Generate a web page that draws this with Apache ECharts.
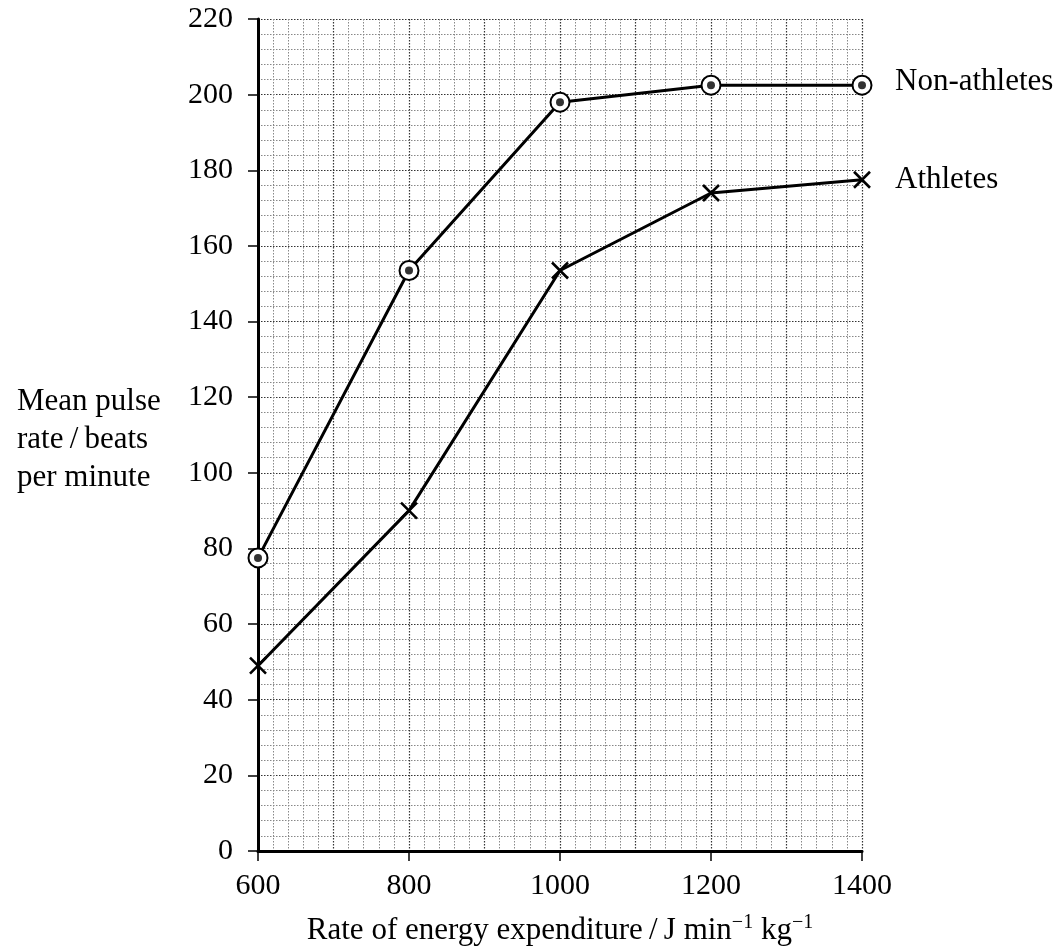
<!DOCTYPE html>
<html><head><meta charset="utf-8">
<script src="https://cdn.jsdelivr.net/npm/echarts@6/dist/echarts.min.js"></script>
<style>html,body{margin:0;padding:0;background:#fff}#c{width:1063px;height:948px}</style>
</head><body><div id="c"></div>
<script>
const energy = [600, 800, 1000, 1200, 1400];
const nonAthletes = [77.5, 153.5, 198, 202.5, 202.5];
const athletes = [49, 90, 153.5, 174, 177.5];
const xTicks = [600, 800, 1000, 1200, 1400];
const yTicks = [0, 20, 40, 60, 80, 100, 120, 140, 160, 180, 200, 220];
const seriesNames = ['Non-athletes', 'Athletes'];
const yTitle = 'Mean pulse\nrate\u2009/\u2009beats\nper minute';
const xTitle = 'Rate of energy expenditure\u2009/\u2009J min{s|\u22121} kg{s|\u22121}';

const FONT = '"Liberation Serif", "Times New Roman", serif';
const TICK_FS = 30, TEXT_FS = 31;
const pts = a => energy.map((x, i) => [x, a[i]]);

const chart = echarts.init(document.getElementById('c'));
chart.setOption({
  animation: false,
  backgroundColor: '#fff',
  title: {
    text: yTitle, left: 12, top: 378,
    textStyle: { fontFamily: FONT, fontSize: TEXT_FS, fontWeight: 'normal', color: '#000', lineHeight: 38 }
  },
  grid: { left: 258, right: 201, top: 19, bottom: 97, containLabel: false, outerBoundsMode: 'none' },
  xAxis: [{
    type: 'value', min: xTicks[0], max: xTicks[xTicks.length - 1], interval: 100, position: 'bottom',
    axisLine: { show: false }, axisTick: { show: false }, axisLabel: { show: false },
    splitLine: { show: true, lineStyle: { color: '#333', type: [1.5, 1.5], width: 1.2 } },
    minorTick: { show: false, splitNumber: 5 },
    minorSplitLine: { show: true, lineStyle: { color: '#888', type: [1.5, 1.5], width: 1 } }
  }, {
    type: 'value', min: xTicks[0], max: xTicks[xTicks.length - 1], interval: 200, position: 'bottom',
    axisLine: { show: true, lineStyle: { color: '#000', width: 3 } },
    axisTick: { show: true, length: 10, lineStyle: { color: '#000', width: 1.5 } },
    axisLabel: { margin: 20, fontFamily: FONT, fontSize: TICK_FS, color: '#000', formatter: v => String(v) },
    splitLine: { show: false },
    name: xTitle,
    nameLocation: 'middle', nameGap: 62,
    nameTextStyle: { fontFamily: FONT, fontSize: TEXT_FS, color: '#000',
      rich: { s: { fontFamily: FONT, fontSize: 20, color: '#000', padding: [0, 0, 16, 0] } } }
  }],
  yAxis: {
    type: 'value', min: yTicks[0], max: yTicks[yTicks.length - 1], interval: 20,
    axisLine: { show: true, lineStyle: { color: '#000', width: 3 } },
    axisTick: { show: true, length: 10, lineStyle: { color: '#000', width: 1.5 } },
    axisLabel: { margin: 25, fontFamily: FONT, fontSize: TICK_FS, color: '#000', formatter: v => String(v) },
    splitLine: { show: true, lineStyle: { color: '#333', type: [1.5, 1.5], width: 1.2 } },
    minorTick: { show: false, splitNumber: 5 },
    minorSplitLine: { show: true, lineStyle: { color: '#888', type: [1.5, 1.5], width: 1 } }
  },
  series: [{
    name: seriesNames[0], type: 'line', xAxisIndex: 1, data: pts(nonAthletes),
    symbol: 'emptyCircle', symbolSize: 19,
    lineStyle: { color: '#000', width: 3 },
    itemStyle: { color: '#000', borderColor: '#000', borderWidth: 3 },
    endLabel: { show: true, formatter: '{a}', distance: 33, offset: [0, -3], fontFamily: FONT, fontSize: TEXT_FS, color: '#000' },
    z: 3
  }, {
    name: seriesNames[0] + '-dot', type: 'scatter', xAxisIndex: 1, data: pts(nonAthletes),
    symbol: 'circle', symbolSize: 8, itemStyle: { color: '#000' }, z: 4
  }, {
    name: seriesNames[1], type: 'line', xAxisIndex: 1, data: pts(athletes),
    symbol: 'path://M0,0L10,10M10,0L0,10', symbolSize: 16,
    lineStyle: { color: '#000', width: 3 },
    itemStyle: { color: '#000', borderColor: '#000', borderWidth: 2.6 },
    endLabel: { show: true, formatter: '{a}', distance: 33, offset: [0, 0], fontFamily: FONT, fontSize: TEXT_FS, color: '#000' },
    z: 3
  }]
});
</script></body></html>
